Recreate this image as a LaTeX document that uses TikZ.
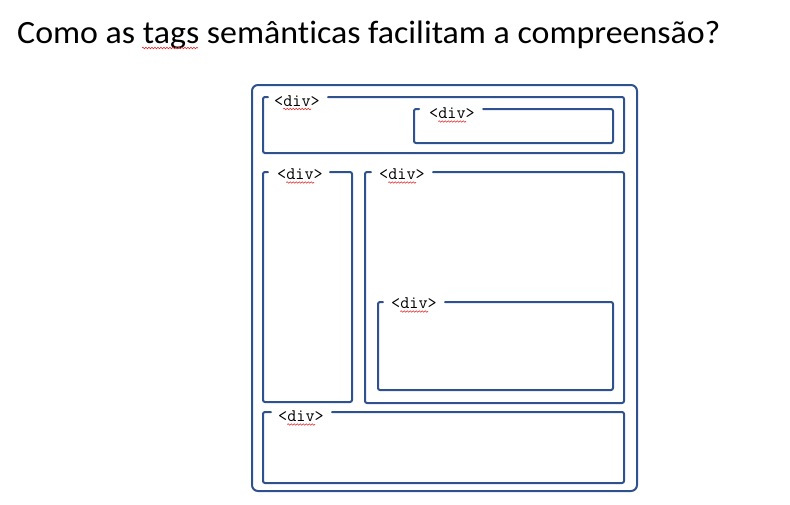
\documentclass[tikz,border=0pt]{standalone}
\usepackage{fontspec}
\setmainfont{Carlito}[Ligatures=CommonOff]
\usetikzlibrary{calc,decorations.pathmorphing}

\definecolor{frameblue}{RGB}{47,82,143}
\definecolor{spellred}{RGB}{230,40,40}

% one <div> frame: left, top, right, bottom, start and end of the gap left for the label
\newcommand\divframe[6]{%
  \draw[divline] (#6,#2) -- (#3,#2) -- (#3,#4) -- (#1,#4) -- (#1,#2) -- (#5,#2);}

\tikzset{
  divline/.style={draw=frameblue, line width=2pt, rounded corners=2pt, line cap=round},
  outerline/.style={draw=frameblue, line width=2pt, rounded corners=6pt},
  divlabel/.style={inner sep=0pt, anchor=base west, font=\ttfamily\fontsize{17.7}{20}\selectfont},
  squiggle/.style={draw=spellred, line width=0.6pt,
    decorate, decoration={snake, amplitude=0.8pt, segment length=3pt}},
}

\begin{document}
\begin{tikzpicture}[x=1pt,y=-1pt]
\useasboundingbox (0,0) rectangle (790,504);

% heading
\node[inner sep=0pt, anchor=base west, font=\fontsize{32.5}{36}\selectfont]
  (title) at (17,43.5) {\scalebox{1.043}[1]{Como as tags semânticas facilitam a compreensão?}};
\draw[squiggle] (142,48) -- (198,48);

% page outline
\draw[outerline] (252,85) rectangle (637,491);

% header
\divframe{263}{97}{624}{153}{268}{328}
\node[divlabel] (lblHead) at (274,106) {<div>};
\divframe{414}{109}{613}{143}{419}{483}
\node[divlabel] (lblHeadIn) at (429,118.5) {<div>};

% side column
\divframe{263}{172}{352}{402}{268}{330}
\node[divlabel] (lblSide) at (277,179.5) {<div>};

% main column
\divframe{365}{172}{624}{403}{371}{433}
\node[divlabel] (lblMain) at (379,179.5) {<div>};
\divframe{378}{302}{613}{390}{383}{445}
\node[divlabel] (lblMainIn) at (391,308.5) {<div>};

% footer
\divframe{263}{412}{624}{483}{271}{332}
\node[divlabel] (lblFoot) at (278,421.5) {<div>};

% spelling marks under "div"
\foreach \n in {lblHead,lblHeadIn,lblSide,lblMain,lblMainIn,lblFoot}
  \draw[squiggle] ($(\n.base west)+(9.3,3)$) -- ($(\n.base west)+(37.2,3)$);
\end{tikzpicture}
\end{document}
